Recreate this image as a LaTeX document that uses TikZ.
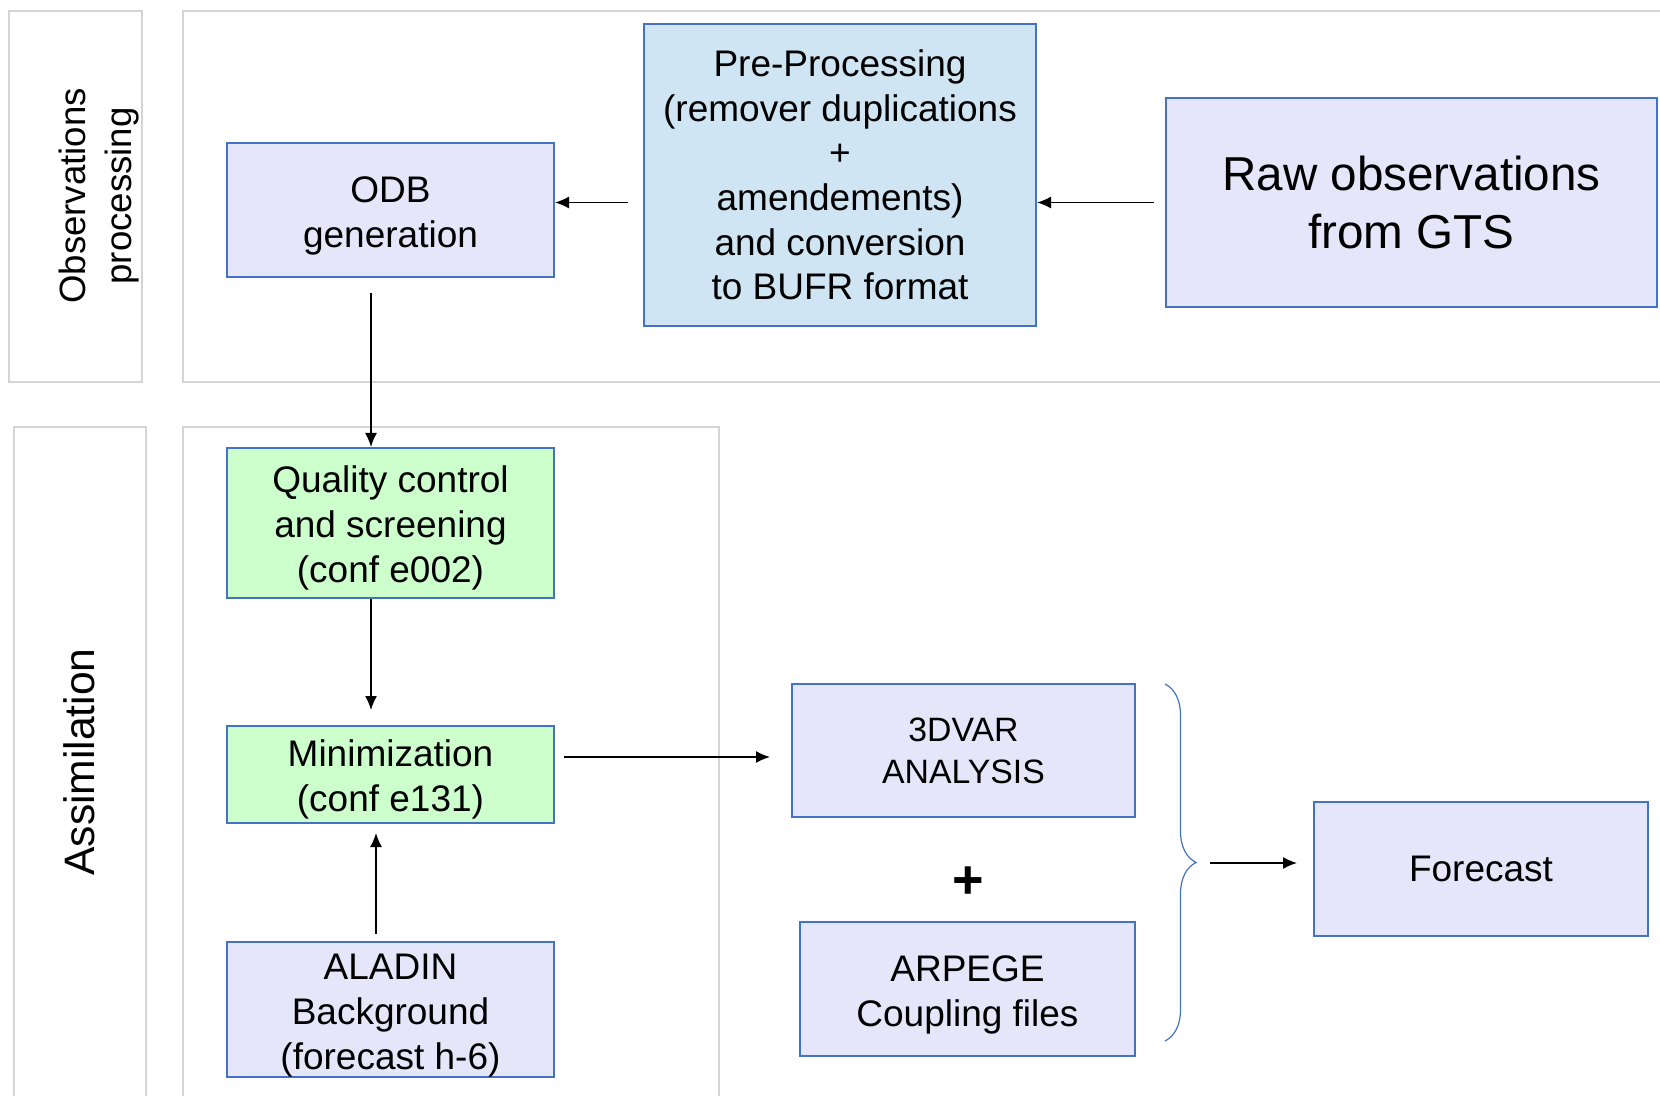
\documentclass[tikz,border=0pt]{standalone}
\usepackage{fontspec}
\setmainfont{Liberation Sans}
\usetikzlibrary{arrows.meta, positioning, calc, decorations.pathreplacing}
\definecolor{boxblue}{RGB}{68,114,196}
\definecolor{lavender}{RGB}{230,230,250}
\definecolor{prepfill}{RGB}{207,229,243}
\definecolor{qcgreen}{RGB}{204,255,204}
\definecolor{framegray}{RGB}{212,212,212}
\newcommand{\fsz}[2]{\fontsize{#1}{#2}\selectfont}
\newcommand{\lowstrut}{\rule{0pt}{18.5pt}}

\begin{document}
\begin{tikzpicture}[
    x=0.5pt, y=-0.5pt,
    databox/.style={rectangle, draw=boxblue, line width=1pt, fill=lavender, align=center, inner sep=0pt, font=\fsz{18.5}{22.5}},
    prepbox/.style={databox, fill=prepfill, font=\fsz{18.5}{22.3}},
    assimbox/.style={databox, fill=qcgreen},
    lane/.style={rectangle, draw=framegray, line width=1pt, anchor=north west, inner sep=0pt},
    lanelabel/.style={rotate=90, align=center},
    arr/.style={-{Latex[length=7pt, width=6pt]}, line width=0.75pt}
]
    \useasboundingbox (0,0) rectangle (1660,1096);
    % lanes
    \node[lane, minimum width=66.5pt, minimum height=185.5pt] (obslane) at (8,10) {};
    \node[lane, minimum width=744pt, minimum height=185.5pt] (obsframe) at (182,10) {};
    \node[lane, minimum width=66pt, minimum height=345pt] (asslane) at (13,426) {};
    \node[lane, minimum width=268pt, minimum height=345pt] (assframe) at (182,426) {};
    \node[lanelabel, font=\fsz{18.3}{23}] (obslabel) at (99,196) {Observations\\processing};
    \node[lanelabel, font=\fsz{21.3}{25}] (asslabel) at (79,762) {Assimilation};

    % observations processing
    \node[databox, minimum width=163.5pt, minimum height=67pt] (odb) at (390.5,210) {\lowstrut ODB\\generation};
    \node[prepbox, minimum width=196pt, minimum height=151pt] (prep) at (840,175) {Pre-Processing\\(remover duplications\\+\\amendements)\\and conversion\\to BUFR format};
    \node[databox, minimum width=245.5pt, minimum height=104.5pt, font=\fsz{23.8}{28.6}] (raw) at (1411.5,202.5) {Raw observations\\from GTS};

    % assimilation
    \node[assimbox, minimum width=163.5pt, minimum height=75pt, below=84.5pt of odb] (qc) {\lowstrut Quality control\\and screening\\(conf e002)};
    \node[assimbox, minimum width=163.5pt, minimum height=48.5pt, below=63pt of qc] (minim) {\lowstrut Minimization\\(conf e131)};
    \node[databox, minimum width=163.5pt, minimum height=67pt, below=58.5pt of minim] (aladin) {\lowstrut ALADIN\\Background\\(forecast h-6)};

    % analysis and forecast
    \node[databox, minimum width=171.5pt, minimum height=66.5pt, font=\fsz{16.9}{21}] (ana) at (963.5,750.5) {3DVAR\\ANALYSIS};
    \node[databox, minimum width=167.5pt, minimum height=67pt, below=51.5pt of ana, xshift=2pt] (arpege) {\lowstrut ARPEGE\\Coupling files};
    \node[font=\fsz{27}{30}\bfseries] (plus) at (968,883) {+};
    \node[databox, minimum width=167pt, minimum height=67pt] (fcst) at (1481,869) {Forecast};

    \coordinate (bracetop) at (1165,684);
    \coordinate (bracebot) at (1165,1041);
    \coordinate (bracetip) at (1196,863);
    \draw[decorate, decoration={brace, amplitude=15.5pt}, draw=boxblue, line width=0.6pt] (bracetop) -- (bracebot);

    % connectors
    \draw[arr, shorten <=5.5pt] (raw.west) -- (prep.east |- raw.west);
    \draw[arr, shorten <=7.5pt] (prep.west |- raw.west) -- (odb.east |- raw.west);
    \draw[arr, shorten <=7.5pt] ([xshift=-9.75pt]odb.south) -- ([xshift=-9.75pt]qc.north);
    \draw[arr, shorten >=7.5pt] ([xshift=-9.75pt]qc.south) -- ([xshift=-9.75pt]minim.north);
    \draw[arr, shorten <=3.5pt, shorten >=4.5pt] ([xshift=-7.25pt]aladin.north) -- ([xshift=-7.25pt]minim.south);
    \draw[arr, shorten <=4.5pt, shorten >=10.5pt] ([yshift=8.75pt]minim.east) -- ([yshift=8.75pt]minim.east -| ana.west);
    \draw[arr, shorten <=7pt, shorten >=8pt] (bracetip) -- (fcst.west |- bracetip);
\end{tikzpicture}
\end{document}
